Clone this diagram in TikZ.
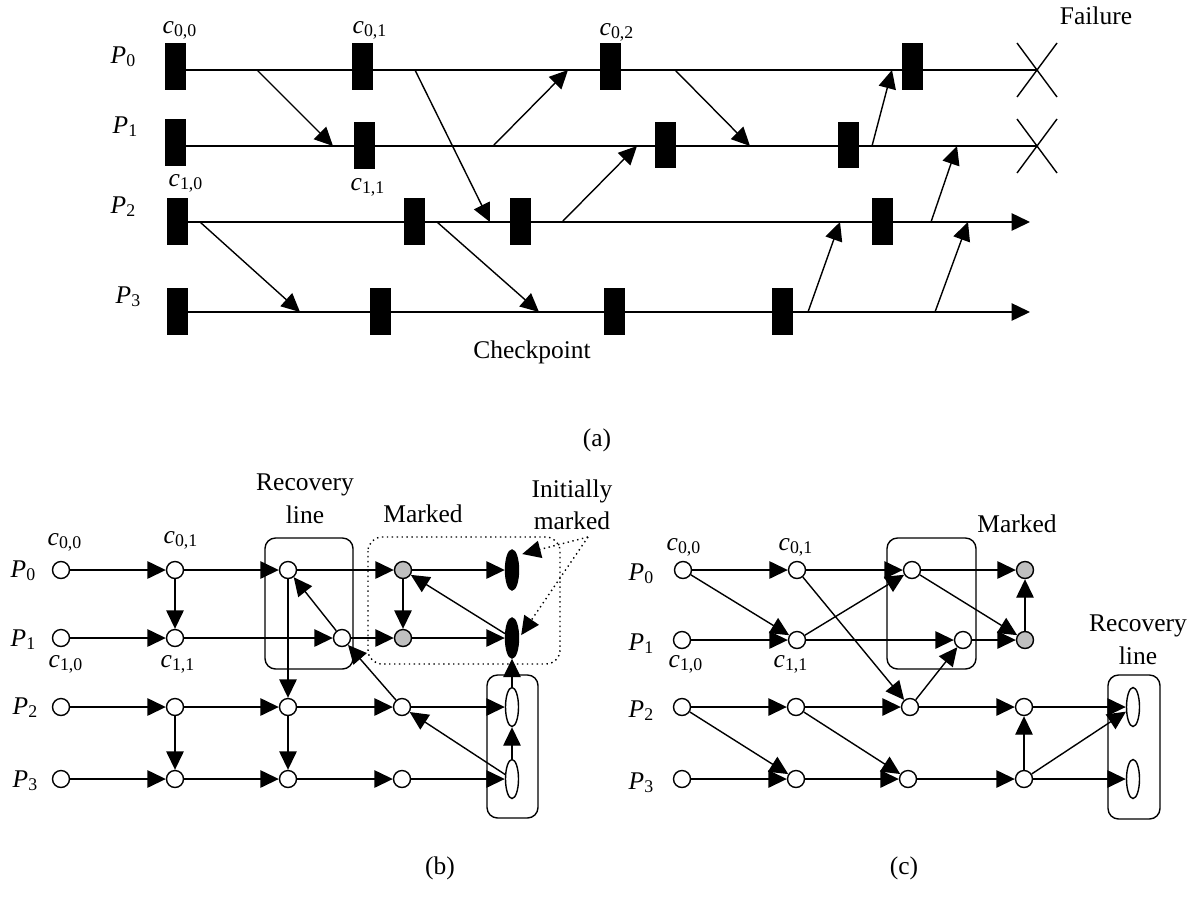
\documentclass[tikz,border=0pt]{standalone}
\usepackage{fontspec}
\setmainfont{Liberation Serif}
\usetikzlibrary{arrows.meta,shapes.geometric}

\newcommand{\procl}[1]{\textit{P}\textsubscript{#1}}
\newcommand{\ckl}[2]{\textit{c}\textsubscript{#1,#2}}

\begin{document}
\begin{tikzpicture}[x=0.02cm,y=-0.02cm,
    font=\fontsize{14.5}{18.5}\selectfont,
    line width=0.8pt,
    >={Triangle[length=0.37cm,width=0.35cm]},
    ck/.style={circle,draw,fill=white,minimum size=0.34cm,inner sep=0pt},
    mk/.style={ck,fill=gray!50},
    imk/.style={ellipse,draw,fill=black,minimum width=0.26cm,minimum height=0.8cm,inner sep=0pt},
    rl/.style={ellipse,draw,fill=white,minimum width=0.26cm,minimum height=0.78cm,inner sep=0pt},
    lbl/.style={anchor=base west,inner sep=0pt},
    txt/.style={anchor=base,inner sep=0pt}]
    \useasboundingbox (0,0) rectangle (1196,896);

    %%%% (a)
    % Process lines
    \coordinate (p0s) at (175,70);  \coordinate (p0e) at (1037,70);
    \coordinate (p1s) at (175,146); \coordinate (p1e) at (1037,146);
    \coordinate (p2s) at (177,222); \coordinate (p2e) at (1030,222);
    \coordinate (p3s) at (177,312); \coordinate (p3e) at (1030,312);
    \draw (p0s) -- (p0e);
    \draw (p1s) -- (p1e);
    \draw[->] (p2s) -- (p2e);
    \draw[->] (p3s) -- (p3e);

    % Failures
    \draw (1017,43) -- (1057,97);
    \draw (1017,97) -- (1057,43);
    \draw (1017,119) -- (1057,173);
    \draw (1017,173) -- (1057,119);

    % Checkpoints
    \fill (164.5,43) rectangle (185.5,90);
    \fill (351.5,43) rectangle (372.5,90);
    \fill (599.5,43) rectangle (620.5,90);
    \fill (901.5,43) rectangle (922.5,90);
    \fill (164.5,119) rectangle (185.5,166);
    \fill (353.5,122) rectangle (374.5,169);
    \fill (654.5,122) rectangle (675.5,168);
    \fill (837.5,122) rectangle (858.5,168);
    \fill (166.5,198) rectangle (187.5,245);
    \fill (403.5,198) rectangle (424.5,245);
    \fill (509.5,198) rectangle (530.5,245);
    \fill (871.5,198) rectangle (892.5,245);
    \fill (166.5,288) rectangle (187.5,335);
    \fill (369.5,288) rectangle (390.5,335);
    \fill (603.5,288) rectangle (624.5,335);
    \fill (771.5,288) rectangle (792.5,335);

    % Messages
    \coordinate (m1s) at (257,70);   \coordinate (m1r) at (333,146);
    \coordinate (m2s) at (415,70);   \coordinate (m2r) at (490,222);
    \coordinate (m3s) at (493,146);  \coordinate (m3r) at (568,70);
    \coordinate (m4s) at (562,222);  \coordinate (m4r) at (637,146);
    \coordinate (m5s) at (675,70);   \coordinate (m5r) at (750,146);
    \coordinate (m6s) at (872,146);  \coordinate (m6r) at (892,70);
    \coordinate (m7s) at (931,222);  \coordinate (m7r) at (957,146);
    \coordinate (m8s) at (808,312);  \coordinate (m8r) at (840,222);
    \coordinate (m9s) at (935,312);  \coordinate (m9r) at (968,222);
    \coordinate (m10s) at (200,222); \coordinate (m10r) at (300,312);
    \coordinate (m11s) at (437,222); \coordinate (m11r) at (539,312);
    \draw[->] (m1s) -- (m1r);
    \draw[->] (m2s) -- (m2r);
    \draw[->] (m3s) -- (m3r);
    \draw[->] (m4s) -- (m4r);
    \draw[->] (m5s) -- (m5r);
    \draw[->] (m6s) -- (m6r);
    \draw[->] (m7s) -- (m7r);
    \draw[->] (m8s) -- (m8r);
    \draw[->] (m9s) -- (m9r);
    \draw[->] (m10s) -- (m10r);
    \draw[->] (m11s) -- (m11r);

    % Labels
    \node[lbl] (pa0) at (110,63) {\procl{0}};
    \node[lbl] (pa1) at (112,133) {\procl{1}};
    \node[lbl] (pa2) at (110,213) {\procl{2}};
    \node[lbl] (pa3) at (115,303) {\procl{3}};
    \node[lbl] (ca00) at (162,33) {\ckl{0}{0}};
    \node[lbl] (ca01) at (352,33) {\ckl{0}{1}};
    \node[lbl] (ca02) at (599,35) {\ckl{0}{2}};
    \node[lbl] (ca10) at (168,186) {\ckl{1}{0}};
    \node[lbl] (ca11) at (350,190) {\ckl{1}{1}};
    \node[txt] (fail) at (1096,24) {Failure};
    \node[txt] (ckpt) at (532,358) {Checkpoint};
    \node (capa) at (597,440) {(a)};

    %%%% (b)
    % Boxes
    \draw[rounded corners=6pt] (265,538) rectangle (353,669);
    \draw[dotted,rounded corners=8pt] (368,537) rectangle (560,664);
    \draw[rounded corners=6pt] (487,675) rectangle (538,818);

    % Checkpoints
    \node[ck] (b00) at (61,570) {};
    \node[ck] (b01) at (175,570) {};
    \node[ck] (b02) at (288,570) {};
    \node[mk] (b03) at (403,570) {};
    \node[imk] (b04) at (512,570) {};
    \node[ck] (b10) at (61,638) {};
    \node[ck] (b11) at (175,638) {};
    \node[ck] (b12) at (342,638) {};
    \node[mk] (b13) at (403,638) {};
    \node[imk] (b14) at (512,638) {};
    \node[ck] (b20) at (61,707) {};
    \node[ck] (b21) at (175,707) {};
    \node[ck] (b22) at (288,707) {};
    \node[ck] (b23) at (402,707) {};
    \node[rl] (b24) at (512,707) {};
    \node[ck] (b30) at (61,779) {};
    \node[ck] (b31) at (175,779) {};
    \node[ck] (b32) at (288,779) {};
    \node[ck] (b33) at (402,779) {};
    \node[rl] (b34) at (512,779) {};

    % Dependencies
    \draw[->] (b00) -- (b01);
    \draw[->] (b01) -- (b02);
    \draw[->] (b02) -- (b03);
    \draw[->] (b03) -- (b04);
    \draw[->] (b10) -- (b11);
    \draw[->] (b11) -- (b12);
    \draw[->] (b12) -- (b13);
    \draw[->] (b13) -- (b14);
    \draw[->] (b20) -- (b21);
    \draw[->] (b21) -- (b22);
    \draw[->] (b22) -- (b23);
    \draw[->] (b23) -- (b24);
    \draw[->] (b30) -- (b31);
    \draw[->] (b31) -- (b32);
    \draw[->] (b32) -- (b33);
    \draw[->] (b33) -- (b34);
    \draw[->] (b01) -- (b11);
    \draw[->] (b02) -- (b22);
    \draw[->] (b21) -- (b31);
    \draw[->] (b22) -- (b32);
    \draw[->] (b03) -- (b13);
    \draw[->] (b12) -- (b02);
    \draw[->] (b23) -- (b12);
    \draw[->] (b14) -- (b03);
    \draw[->] (b34) -- (b23);
    \draw[->] (b34) -- (b24);
    \draw[->] (b24) -- (b14);

    % Labels
    \node[lbl] (pb0) at (10,577) {\procl{0}};
    \node[lbl] (pb1) at (10,646) {\procl{1}};
    \node[lbl] (pb2) at (12,714) {\procl{2}};
    \node[lbl] (pb3) at (12,787) {\procl{3}};
    \node[lbl] (cb00) at (47,545) {\ckl{0}{0}};
    \node[lbl] (cb01) at (163,543) {\ckl{0}{1}};
    \node[lbl] (cb10) at (48,667) {\ckl{1}{0}};
    \node[lbl] (cb11) at (160,667) {\ckl{1}{1}};
    \node[align=center] (rlb) at (305,499) {Recovery\\line};
    \node[txt] (mkb) at (423,522) {Marked};
    \node[align=center] (imb) at (572,505) {Initially\\marked};
    \coordinate (imp) at (588,537);
    \draw[dotted,->,shorten >=3pt] (imp) -- (b04.north east);
    \draw[dotted,->,shorten >=2pt] (imp) -- (b14.east);
    \node (capb) at (440,868) {(b)};

    %%%% (c)
    % Boxes
    \draw[rounded corners=6pt] (887,538) rectangle (976,669);
    \draw[rounded corners=6pt] (1108,675) rectangle (1160,819);

    % Checkpoints
    \node[ck] (c00) at (683,570) {};
    \node[ck] (c01) at (797,570) {};
    \node[ck] (c02) at (912,570) {};
    \node[mk] (c03) at (1025,570) {};
    \node[ck] (c10) at (682,640) {};
    \node[ck] (c11) at (797,640) {};
    \node[ck] (c12) at (963,640) {};
    \node[mk] (c13) at (1025,640) {};
    \node[ck] (c20) at (682,707) {};
    \node[ck] (c21) at (796,707) {};
    \node[ck] (c22) at (910,707) {};
    \node[ck] (c23) at (1024,707) {};
    \node[rl] (c24) at (1133,707) {};
    \node[ck] (c30) at (682,779) {};
    \node[ck] (c31) at (796,779) {};
    \node[ck] (c32) at (908,779) {};
    \node[ck] (c33) at (1024,779) {};
    \node[rl] (c34) at (1133,779) {};

    % Dependencies
    \draw[->] (c00) -- (c01);
    \draw[->] (c01) -- (c02);
    \draw[->] (c02) -- (c03);
    \draw[->] (c10) -- (c11);
    \draw[->] (c11) -- (c12);
    \draw[->] (c12) -- (c13);
    \draw[->] (c20) -- (c21);
    \draw[->] (c21) -- (c22);
    \draw[->] (c22) -- (c23);
    \draw[->] (c23) -- (c24);
    \draw[->] (c30) -- (c31);
    \draw[->] (c31) -- (c32);
    \draw[->] (c32) -- (c33);
    \draw[->] (c33) -- (c34);
    \draw[->] (c00) -- (c11);
    \draw[->] (c11) -- (c02);
    \draw[->] (c01) -- (c22);
    \draw[->] (c22) -- (c12);
    \draw[->] (c02) -- (c13);
    \draw[->] (c13) -- (c03);
    \draw[->] (c20) -- (c31);
    \draw[->] (c21) -- (c32);
    \draw[->] (c33) -- (c23);
    \draw[->] (c33) -- (c24);

    % Labels
    \node[lbl] (pc0) at (628,580) {\procl{0}};
    \node[lbl] (pc1) at (628,650) {\procl{1}};
    \node[lbl] (pc2) at (628,717) {\procl{2}};
    \node[lbl] (pc3) at (628,789) {\procl{3}};
    \node[lbl] (cc00) at (666,550) {\ckl{0}{0}};
    \node[lbl] (cc01) at (778,550) {\ckl{0}{1}};
    \node[lbl] (cc10) at (668,667) {\ckl{1}{0}};
    \node[lbl] (cc11) at (773,667) {\ckl{1}{1}};
    \node[txt] (mkc) at (1017,532) {Marked};
    \node[align=center] (rlc) at (1138,640) {Recovery\\line};
    \node (capc) at (904,868) {(c)};
\end{tikzpicture}
\end{document}
